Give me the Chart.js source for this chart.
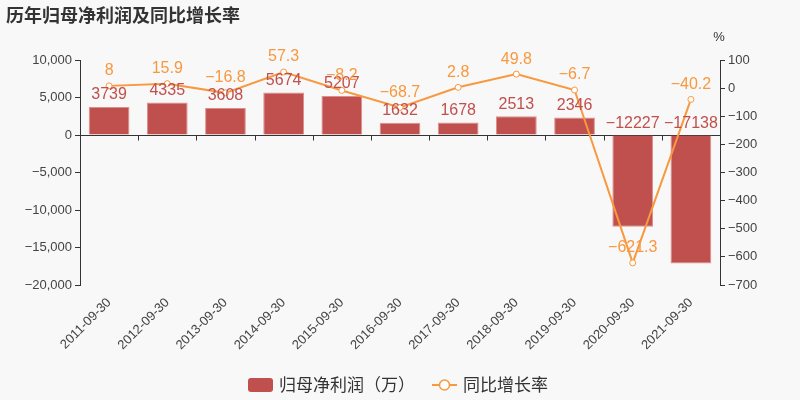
<!DOCTYPE html>
<html>
<head>
<meta charset="utf-8">
<script src="https://cdn.jsdelivr.net/npm/chart.js@4"></script>
<style>
  body { margin: 0; background: #f8f8f8; }
  #wrap { width: 800px; height: 400px; }
</style>
</head>
<body>
<div id="wrap"><canvas id="chart" width="800" height="400"></canvas></div>
<script>
const categories = ['2011-09-30', '2012-09-30', '2013-09-30', '2014-09-30', '2015-09-30', '2016-09-30',
  '2017-09-30', '2018-09-30', '2019-09-30', '2020-09-30', '2021-09-30'];
const profit = [3739, 4335, 3608, 5674, 5207, 1632, 1678, 2513, 2346, -12227, -17138];
const growth = [8, 15.9, -16.8, 57.3, -8.2, -68.7, 2.8, 49.8, -6.7, -621.3, -40.2];
const leftTicks = [-20000, -15000, -10000, -5000, 0, 5000, 10000];
const rightTicks = [-700, -600, -500, -400, -300, -200, -100, 0, 100];

const BAR = '#c0504d';
const LINE = '#f8983f';
const NUM_FONT = '"Liberation Sans", "Noto Sans CJK SC", sans-serif';
const CJK_FONT = '"Noto Sans CJK SC", sans-serif';

// minus sign like the original
const fmt = (v, comma) => {
  const s = comma ? Math.abs(v).toLocaleString('en-US') : String(Math.abs(v));
  return (v < 0 ? '\u2212' : '') + s;
};

const extras = {
  id: 'extras',
  beforeDatasetsDraw(chart) {
    const { ctx, scales: { x, y } } = chart;
    const y0 = Math.round(y.getPixelForValue(0)) + 0.5;
    ctx.save();
    ctx.strokeStyle = '#333';
    ctx.lineWidth = 1;
    ctx.beginPath();
    ctx.moveTo(x.left, y0);
    ctx.lineTo(x.right, y0);
    const step = (x.right - x.left) / categories.length;
    for (let i = 0; i <= categories.length; i++) {
      const px = Math.round(x.left + step * i) + 0.5;
      ctx.moveTo(px, y0);
      ctx.lineTo(px, y0 + 5);
    }
    ctx.stroke();
    ctx.restore();
  },
  afterDraw(chart) {
    const { ctx } = chart;
    ctx.save();

    // title
    ctx.fillStyle = '#333';
    ctx.font = 'bold 18px ' + CJK_FONT;
    ctx.textBaseline = 'middle';
    ctx.textAlign = 'left';
    ctx.fillText('历年归母净利润及同比增长率', 6, 15);

    // right axis unit
    ctx.font = '13px ' + NUM_FONT;
    ctx.textAlign = 'center';
    ctx.fillText('%', 719, 37);

    // value labels
    ctx.font = '16px ' + NUM_FONT;
    ctx.textBaseline = 'bottom';
    const barMeta = chart.getDatasetMeta(1);
    barMeta.data.forEach((el, i) => {
      const top = Math.min(el.y, el.base);
      ctx.fillStyle = BAR;
      ctx.fillText(fmt(profit[i]), el.x, top - 4);
    });
    const lineMeta = chart.getDatasetMeta(0);
    lineMeta.data.forEach((el, i) => {
      ctx.fillStyle = LINE;
      ctx.fillText(fmt(growth[i]), el.x, el.y - 7);
    });

    // legend
    const ly = 385;
    ctx.fillStyle = BAR;
    ctx.beginPath();
    ctx.roundRect(248, ly - 7, 25, 14, 3);
    ctx.fill();
    ctx.fillStyle = '#333';
    ctx.font = '17px ' + CJK_FONT;
    ctx.textAlign = 'left';
    ctx.textBaseline = 'middle';
    ctx.fillText('归母净利润（万）', 279, ly);

    ctx.strokeStyle = LINE;
    ctx.lineWidth = 2;
    ctx.beginPath();
    ctx.moveTo(432, ly);
    ctx.lineTo(457, ly);
    ctx.stroke();
    ctx.fillStyle = '#fff';
    ctx.lineWidth = 1.5;
    ctx.beginPath();
    ctx.arc(444.5, ly, 5, 0, Math.PI * 2);
    ctx.fill();
    ctx.stroke();
    ctx.fillStyle = '#333';
    ctx.fillText('同比增长率', 463, ly);

    ctx.restore();
  }
};

new Chart(document.getElementById('chart'), {
  data: {
    labels: categories,
    datasets: [
      {
        type: 'line',
        label: '同比增长率',
        data: growth,
        yAxisID: 'y1',
        order: 0,
        borderColor: LINE,
        borderWidth: 2,
        pointRadius: 3,
        pointBorderWidth: 1,
        pointBackgroundColor: '#fff',
        pointBorderColor: LINE,
        tension: 0
      },
      {
        type: 'bar',
        label: '归母净利润（万）',
        data: profit,
        yAxisID: 'y',
        order: 1,
        backgroundColor: BAR,
        borderColor: '#dc8e8c',
        borderWidth: 1,
        barPercentage: 0.7,
        categoryPercentage: 1
      }
    ]
  },
  options: {
    responsive: false,
    animation: false,
    layout: { padding: { top: 60, left: 0, right: 0, bottom: 0 } },
    plugins: { legend: { display: false }, tooltip: { enabled: false } },
    scales: {
      x: {
        offset: true,
        grid: { display: false },
        border: { display: false },
        ticks: { maxRotation: 45, minRotation: 45, color: '#444', font: { size: 13, family: NUM_FONT }, padding: 2 },
        afterFit: (s) => { s.height = 115; }
      },
      y: {
        position: 'left',
        min: leftTicks[0],
        max: leftTicks[leftTicks.length - 1],
        afterBuildTicks: (s) => { s.ticks = leftTicks.map(v => ({ value: v })); },
        grid: { drawOnChartArea: false, color: '#333', tickLength: 5 },
        border: { color: '#333' },
        ticks: { color: '#444', font: { size: 13, family: NUM_FONT }, callback: v => fmt(v, true) },
        afterFit: (s) => { s.width = 80; }
      },
      y1: {
        position: 'right',
        min: rightTicks[0],
        max: rightTicks[rightTicks.length - 1],
        afterBuildTicks: (s) => { s.ticks = rightTicks.map(v => ({ value: v })); },
        grid: { drawOnChartArea: false, color: '#333', tickLength: 5 },
        border: { color: '#333' },
        ticks: { color: '#444', font: { size: 13, family: NUM_FONT }, callback: v => fmt(v, false) },
        afterFit: (s) => { s.width = 80; }
      }
    }
  },
  plugins: [extras]
});
</script>
</body>
</html>
